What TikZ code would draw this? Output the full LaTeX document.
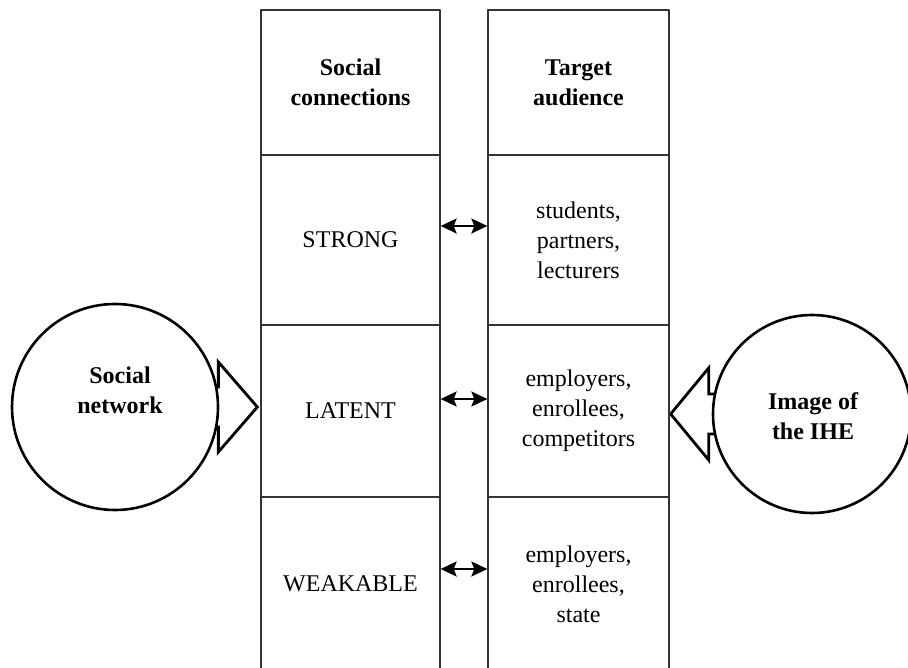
\documentclass[tikz,border=0pt]{standalone}
\usepackage{fontspec}
\setmainfont{Liberation Serif}
\usetikzlibrary{arrows.meta,backgrounds}
\begin{document}
\begin{tikzpicture}[x=1pt, y=-1pt, line join=round,
	cell/.style={draw=black!80, line width=1.3pt, inner sep=0pt, align=center, font=\fontsize{24}{30}\selectfont},
	head/.style={cell, font=\fontsize{24}{30}\selectfont\bfseries},
	circ/.style={circle, draw, line width=2.6pt, fill=white, inner sep=0pt},
	bold/.style={align=center, font=\fontsize{24}{30}\selectfont\bfseries},
	link/.style={{Stealth[length=16pt,width=15pt,inset=3pt]}-{Stealth[length=16pt,width=15pt,inset=3pt]}, line width=2pt},
	hollow/.style={draw, line width=2.8pt, fill=white, line join=miter}]
	\def\wl{179} \def\wr{181} % column widths
	\def\xl{350.5} \def\xr{578.5} % column centres
	\useasboundingbox (0,0) rectangle (908,668);
	% left column
	\node[head, minimum width=\wl, minimum height=145] (l1) at (\xl,82.5) {Social\\connections};
	\node[cell, minimum width=\wl, minimum height=170] (l2) at (\xl,240) {STRONG};
	\node[cell, minimum width=\wl, minimum height=172] (l3) at (\xl,411) {LATENT};
	\node[cell, minimum width=\wl, minimum height=174] (l4) at (\xl,584) {WEAKABLE};
	% right column
	\node[head, minimum width=\wr, minimum height=145] (r1) at (\xr,82.5) {Target\\audience};
	\node[cell, minimum width=\wr, minimum height=170] (r2) at (\xr,240) {students,\\partners,\\lecturers};
	\node[cell, minimum width=\wr, minimum height=172] (r3) at (\xr,411) {employers,\\enrollees,\\competitors};
	\node[cell, minimum width=\wr, minimum height=174] (r4) at (\xr,584) {employers,\\enrollees,\\state};
	% links between the columns
	\draw[link] ([yshift=14pt]l2.east) -- ([yshift=14pt]r2.west);
	\draw[link] ([yshift=12pt]l3.east) -- ([yshift=12pt]r3.west);
	\draw[link] ([yshift=15pt]l4.east) -- ([yshift=15pt]r4.west);
	% circles
	\node[circ, minimum size=206] (sn) at (115,407) {};
	\node[bold] (snt) at ([shift={(5,-17)}]sn.center) {Social\\network};
	\node[circ, minimum size=198] (ih) at (812,414) {};
	\node[bold] (iht) at ([shift={(1,2)}]ih.center) {Image of\\the IHE};
	% block arrows
	\coordinate (tl) at (sn.center -| l3.west);
	\coordinate (tr) at (ih.center -| r3.east);
	\begin{scope}[on background layer]
		\draw[hollow] ([xshift=-3pt]tl) -- ++(-39,-45) -- ++(0,25) -- ++(-50,0) -- ++(0,40) -- ++(50,0) -- ++(0,25) -- cycle;
		\draw[hollow] ([xshift=1pt]tr) -- ++(38,-46) -- ++(0,26) -- ++(50,0) -- ++(0,40) -- ++(-50,0) -- ++(0,26) -- cycle;
	\end{scope}
\end{tikzpicture}
\end{document}
